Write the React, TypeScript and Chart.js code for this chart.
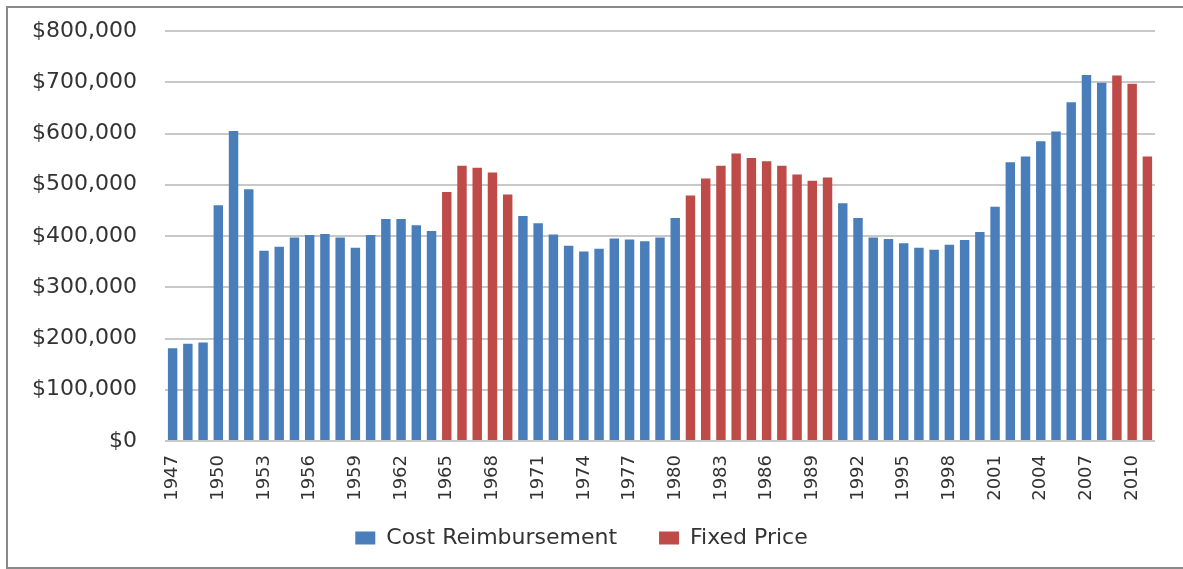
import React, { useEffect, useRef } from "react";
import { Chart, registerables } from "chart.js";

Chart.register(...registerables);

const years: string[] = [
  "1947","1948","1949","1950","1951","1952","1953","1954","1955","1956",
  "1957","1958","1959","1960","1961","1962","1963","1964","1965","1966",
  "1967","1968","1969","1970","1971","1972","1973","1974","1975","1976",
  "1977","1978","1979","1980","1981","1982","1983","1984","1985","1986",
  "1987","1988","1989","1990","1991","1992","1993","1994","1995","1996",
  "1997","1998","1999","2000","2001","2002","2003","2004","2005","2006",
  "2007","2008","2009","2010","2011",
];

const costReimbursement: (number | null)[] = [
  181000, 190000, 192000, 460000, 605000, 491000, 371000, 379000, 397000, 402000,
  404000, 397000, 377000, 402000, 433000, 433000, 421000, 410000, null, null,
  null, null, null, 439000, 425000, 403000, 381000, 370000, 375000, 395000,
  393000, 390000, 397000, 435000, null, null, null, null, null, null,
  null, null, null, null, 464000, 435000, 397000, 394000, 386000, 377000,
  373000, 383000, 392000, 408000, 457000, 544000, 555000, 585000, 604000, 661000,
  714000, 699000, null, null, null,
];

const fixedPrice: (number | null)[] = [
  null, null, null, null, null, null, null, null, null, null,
  null, null, null, null, null, null, null, null, 486000, 537000,
  533000, 524000, 481000, null, null, null, null, null, null, null,
  null, null, null, null, 479000, 512000, 537000, 561000, 552000, 546000,
  537000, 520000, 508000, 514000, null, null, null, null, null, null,
  null, null, null, null, null, null, null, null, null, null,
  null, null, 713000, 697000, 555000,
];

const yTicks: number[] = [0, 100000, 200000, 300000, 400000, 500000, 600000, 700000, 800000];

export default function App() {
  const ref = useRef<HTMLCanvasElement | null>(null);

  useEffect(() => {
    if (!ref.current) return;
    const chart = new Chart(ref.current, {
      type: "bar",
      data: {
        labels: years,
        datasets: [
          {
            label: "Cost Reimbursement",
            data: costReimbursement,
            backgroundColor: "#4a7ebb",
            grouped: false,
            categoryPercentage: 1,
            barPercentage: 0.62,
          },
          {
            label: "Fixed Price",
            data: fixedPrice,
            backgroundColor: "#be4b48",
            grouped: false,
            categoryPercentage: 1,
            barPercentage: 0.62,
          },
        ],
      },
      options: {
        animation: false,
        responsive: false,
        layout: { padding: { top: 23, right: 28, bottom: 8, left: 0 } },
        plugins: {
          tooltip: { enabled: false },
          legend: {
            position: "bottom",
            labels: {
              boxWidth: 20,
              boxHeight: 13,
              padding: 42,
              color: "#333333",
              font: { family: "DejaVu Sans", size: 22 },
            },
          },
        },
        scales: {
          x: {
            grid: { display: false, drawTicks: false },
            border: { display: false },
            afterFit: (s: any) => {
              s.height = 44;
              s.paddingLeft = 0;
              s.paddingRight = 0;
              s._computeLabelArea = () => undefined;
            },
            ticks: {
              autoSkip: false,
              minRotation: 90,
              maxRotation: 90,
              padding: 14,
              color: "#333333",
              font: { family: "DejaVu Sans", size: 18 },
              callback: (_v: any, i: number) => (i % 3 === 0 ? years[i] : ""),
            },
          },
          y: {
            min: 0,
            max: 800000,
            afterBuildTicks: (s: any) => {
              s.ticks = yTicks.map((v) => ({ value: v }));
            },
            afterFit: (s: any) => {
              s.width = 157;
              s.paddingTop = 0;
              s.paddingBottom = 0;
            },
            grid: { color: "#c8c8c8", lineWidth: 2, drawTicks: false },
            border: { display: false },
            ticks: {
              padding: 28,
              color: "#333333",
              font: { family: "DejaVu Sans", size: 22 },
              callback: (v: any) => "$" + Number(v).toLocaleString("en-US"),
            },
          },
        },
      },
    });
    return () => chart.destroy();
  }, []);

  return (
    <div
      style={{
        position: "absolute",
        left: 6,
        top: 6,
        width: 1190,
        height: 563,
        border: "2px solid #8a8a8a",
        boxSizing: "border-box",
        background: "#ffffff",
      }}
    >
      <canvas
        ref={ref}
        width={1175}
        height={559}
        style={{ display: "block", width: 1175, height: 559 }}
      />
    </div>
  );
}
